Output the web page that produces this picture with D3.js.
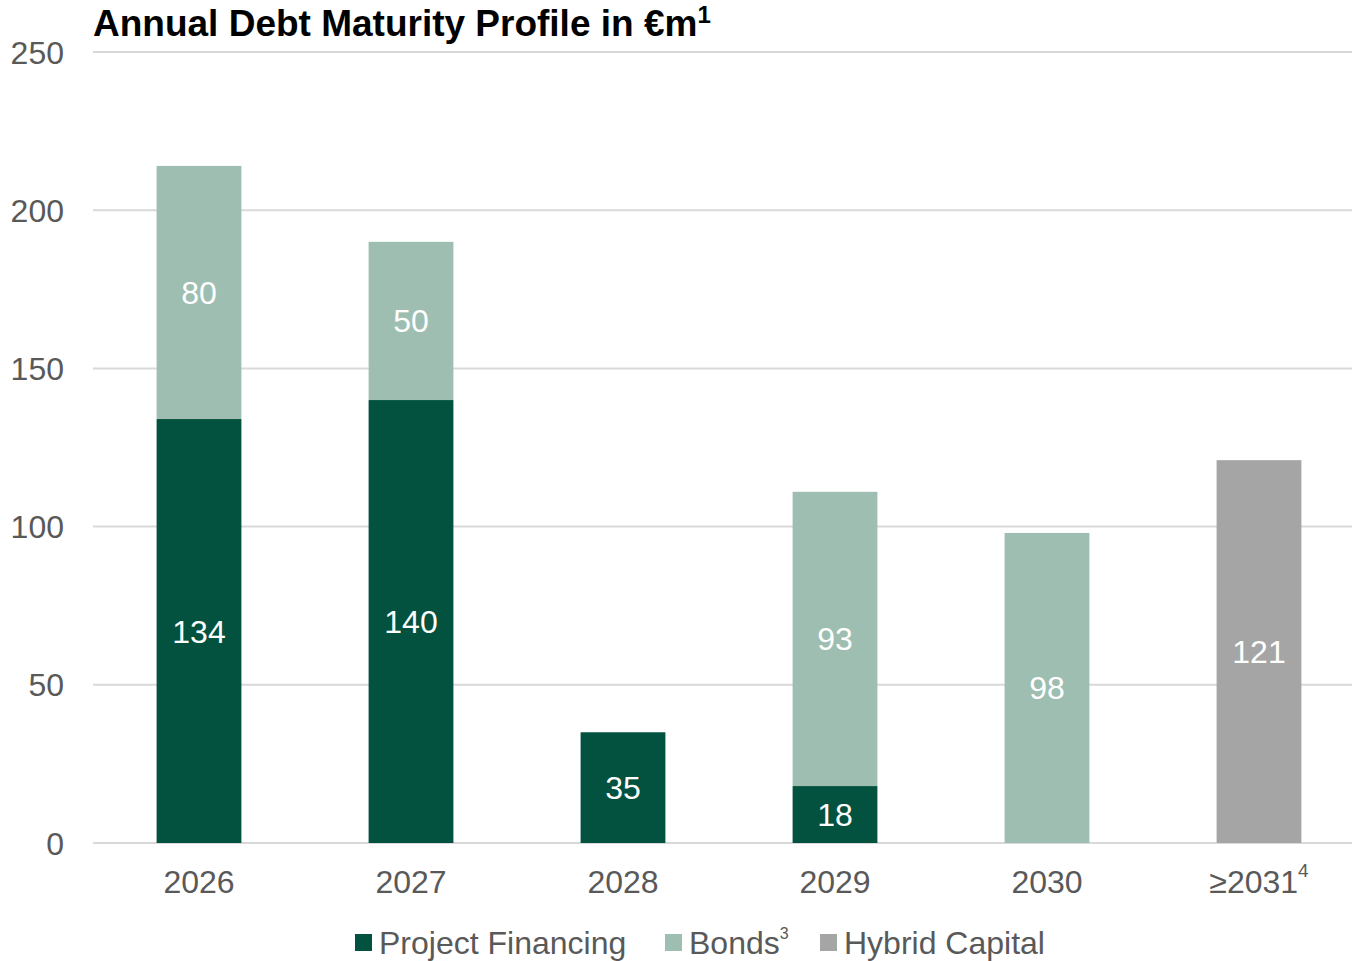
<!DOCTYPE html>
<html>
<head>
<meta charset="utf-8">
<script src="https://cdn.jsdelivr.net/npm/d3@7"></script>
<style>
  html, body { margin: 0; padding: 0; background: #fff; }
  svg { display: block; font-family: "Liberation Sans", Arial, sans-serif; }
</style>
</head>
<body>
<svg id="chart" width="1352" height="961"></svg>
<script>
// Annual debt maturity profile, €m
const categories = ["2026", "2027", "2028", "2029", "2030", "≥2031"];
const categorySup = ["", "", "", "", "", "4"];
const projectFinancing = [134, 140, 35, 18, 0, 0];
const bonds = [80, 50, 0, 93, 98, 0];
const hybridCapital = [0, 0, 0, 0, 0, 121];
const yTicks = [0, 50, 100, 150, 200, 250];
const seriesNames = ["Project Financing", "Bonds", "Hybrid Capital"];
const seriesSup = ["", "3", ""];
const seriesColors = ["#02523f", "#9ebeb2", "#a5a5a5"];

const svg = d3.select("#chart");
const W = 1352;
const FS = 32;

const x = d3.scaleBand()
  .domain(categories)
  .range([93, 1365])
  .paddingInner(0.6)
  .paddingOuter(0.3);

const y = d3.scaleLinear().domain([0, 250]).range([843, 52]);

// Gridlines
svg.append("g")
  .selectAll("line")
  .data(yTicks)
  .join("line")
  .attr("x1", 93).attr("x2", W)
  .attr("y1", d => y(d)).attr("y2", d => y(d))
  .attr("stroke", "#d9d9d9")
  .attr("stroke-width", 2);

// Y axis labels
svg.append("g")
  .selectAll("text")
  .data(yTicks)
  .join("text")
  .attr("x", 64)
  .attr("y", d => y(d))
  .attr("dy", "0.36em")
  .attr("text-anchor", "end")
  .attr("font-size", FS)
  .attr("fill", "#595959")
  .text(d => d);

// Stack the series
const rows = categories.map((c, i) => ({
  cat: c,
  "Project Financing": projectFinancing[i],
  "Bonds": bonds[i],
  "Hybrid Capital": hybridCapital[i]
}));
const stacked = d3.stack().keys(seriesNames)(rows);

const layers = svg.append("g")
  .selectAll("g")
  .data(stacked)
  .join("g")
  .attr("fill", (d, i) => seriesColors[i]);

layers.selectAll("rect")
  .data(d => d.filter(s => s[1] - s[0] > 0))
  .join("rect")
  .attr("x", d => x(d.data.cat))
  .attr("width", x.bandwidth())
  .attr("y", d => y(d[1]))
  .attr("height", d => y(d[0]) - y(d[1]));

// Value labels centred in each segment
const labels = svg.append("g");
stacked.forEach(layer => {
  layer.filter(s => s[1] - s[0] > 0).forEach(s => {
    labels.append("text")
      .attr("x", x(s.data.cat) + x.bandwidth() / 2)
      .attr("y", (y(s[0]) + y(s[1])) / 2)
      .attr("dy", "0.36em")
      .attr("text-anchor", "middle")
      .attr("font-size", FS)
      .attr("fill", "#ffffff")
      .text(s[1] - s[0]);
  });
});

// X axis labels
const xl = svg.append("g")
  .selectAll("text")
  .data(categories)
  .join("text")
  .attr("x", d => x(d) + x.bandwidth() / 2)
  .attr("y", 881)
  .attr("dy", "0.36em")
  .attr("text-anchor", "middle")
  .attr("font-size", FS)
  .attr("fill", "#595959");
xl.append("tspan").text(d => d);
xl.append("tspan")
  .attr("font-size", 19)
  .attr("dy", "-0.8em")
  .text((d, i) => categorySup[i]);

// Title
const title = svg.append("text")
  .attr("x", 93)
  .attr("y", 36)
  .attr("font-size", 37)
  .attr("font-weight", "bold")
  .attr("fill", "#000");
title.append("tspan").text("Annual Debt Maturity Profile in €m");
title.append("tspan").attr("font-size", 24).attr("dy", "-0.55em").text("1");

// Legend
const legendX = [355, 665, 820];
const lg = svg.append("g")
  .selectAll("g")
  .data(seriesNames)
  .join("g")
  .attr("transform", (d, i) => `translate(${legendX[i]},942)`);
lg.append("rect")
  .attr("x", 0).attr("y", -8)
  .attr("width", 17).attr("height", 17)
  .attr("fill", (d, i) => seriesColors[i]);
const lt = lg.append("text")
  .attr("x", 24)
  .attr("y", 0)
  .attr("dy", "0.36em")
  .attr("font-size", FS)
  .attr("fill", "#595959");
lt.append("tspan").text(d => d);
lt.append("tspan").attr("font-size", 16).attr("dy", "-0.9em").text((d, i) => seriesSup[i]);
</script>
</body>
</html>
